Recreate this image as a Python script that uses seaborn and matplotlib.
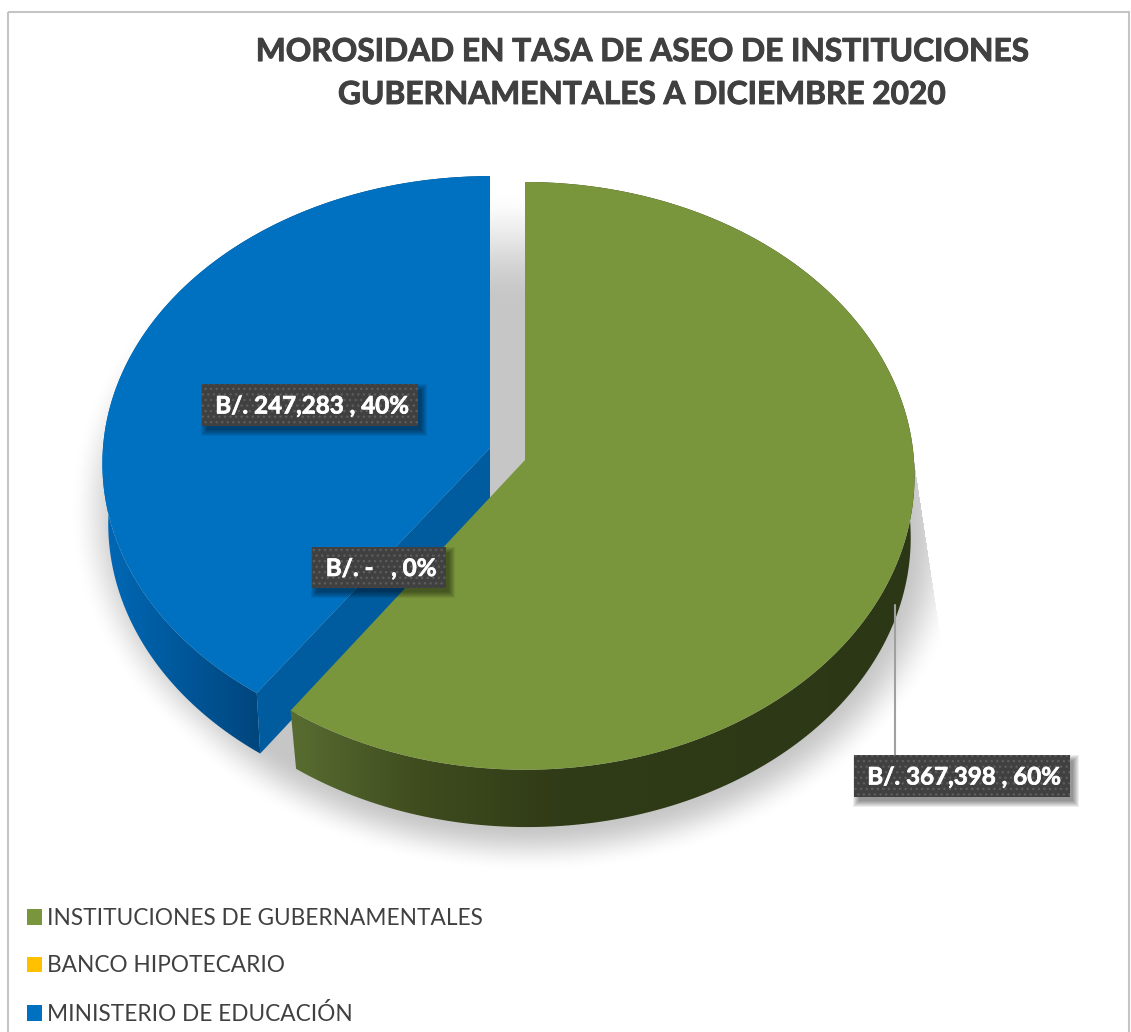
import numpy as np
import matplotlib
matplotlib.use("Agg")
import matplotlib.pyplot as plt
import matplotlib.patheffects as pe
import seaborn as sns
from matplotlib.colors import to_rgb
from matplotlib.patches import Polygon, Rectangle
from matplotlib.transforms import Transform

categories = ["INSTITUCIONES DE GUBERNAMENTALES", "BANCO HIPOTECARIO", "MINISTERIO DE EDUCACIÓN"]
values = [367398, 0, 247283]
value_labels = ["B/. 367,398 , 60%", "B/. -   , 0%", "B/. 247,283 , 40%"]
colors = ["#7A963C", "#FFC000", "#0070C0"]
title_text = "MOROSIDAD EN TASA DE ASEO DE INSTITUCIONES\nGUBERNAMENTALES A DICIEMBRE 2020"

W, H = 1131, 1032
sns.set_theme(style="white")
plt.rcParams["font.family"] = ["Lato", "DejaVu Sans"]


class Tilt(Transform):
    """Projects the unit pie onto a tilted disc, in pixel coordinates."""
    input_dims = output_dims = 2
    is_affine = False
    has_inverse = False

    def __init__(self, cx, cy, scale=1.0, rx=389.0, ry=293.0, k=0.054):
        super().__init__()
        self.cx, self.cy, self.rx, self.ry, self.k = cx, cy, rx * scale, ry * scale, k

    def transform_non_affine(self, values):
        v = np.asarray(values, float)
        w = 1 + self.k * v[:, 1]
        return np.column_stack((self.cx + self.rx * v[:, 0] / w, self.cy - self.ry * v[:, 1] / w))


fig = plt.figure(figsize=(W / 100, H / 100), dpi=100, facecolor="white")
ax = fig.add_axes([0, 0, 1, 1])
wedges, _ = ax.pie(values, colors=sns.color_palette(colors), startangle=90, counterclock=False,
                   wedgeprops=dict(linewidth=0))
ax.set_aspect("auto")
ax.set_xlim(0, W)
ax.set_ylim(H, 0)
ax.axis("off")


def smooth(t):
    t = np.clip(t, 0, 1)
    return t * t * (3 - 2 * t)


# soft floor shadow
yy, xx = np.mgrid[0:H, 0:W] + 0.5


def blob(cx, cy, rx, ry):
    d = np.hypot((xx - cx) / rx, (yy - cy) / ry)
    return smooth((1.0 - d) / 0.14)


alpha = np.maximum(blob(530, 530, 438, 342), blob(490, 510, 420, 335))
alpha *= smooth((yy - 185) / 120)
alpha = np.where(xx > 914 + (yy - 460) * 0.15, 0, alpha)
alpha = np.where((xx > 700) & (yy < 455), 0, alpha)
shadow = np.zeros((H, W, 4))
shadow[..., :3] = to_rgb("#C6C6C6")
shadow[..., 3] = alpha
ax.imshow(shadow, extent=(0, W, H, 0), aspect="auto", zorder=1, interpolation="bilinear")


def arc(tr, t1, t2, n=200):
    t = np.radians(np.linspace(t1, t2, n))
    return tr.transform_non_affine(np.column_stack((np.cos(t), np.sin(t))))


def side(wedge, top, bottom, stops, z):
    pts = np.vstack((arc(top, wedge.theta1, wedge.theta2), arc(bottom, wedge.theta1, wedge.theta2)[::-1]))
    poly = Polygon(pts, closed=True, fc="none", ec="none", zorder=z)
    ax.add_patch(poly)
    x = np.arange(W) + 0.5
    xs = [s[0] for s in stops]
    rgb = np.array([to_rgb(s[1]) for s in stops])
    row = np.column_stack([np.interp(x, xs, rgb[:, i]) for i in range(3)])
    im = ax.imshow(row[None, :, :], extent=(0, W, H, 0), aspect="auto", zorder=z)
    im.set_clip_path(poly)


green, yellow, blue = wedges
g_top, g_bot = Tilt(525, 460), Tilt(527, 522, 0.985)
b_top, b_bot = Tilt(490, 448, 0.995, ry=288), Tilt(490, 508, 0.98)

# blue slice
side(blue, b_top, b_bot, [(105, "#0068B6"), (170, "#005A9E"), (258, "#00467E")], 2)
corner = np.radians(blue.theta2)
c = np.array([[np.cos(corner), np.sin(corner)]])
face = np.vstack((b_top.transform_non_affine(np.zeros((1, 2))), b_bot.transform_non_affine(np.zeros((1, 2))),
                  b_bot.transform_non_affine(c), b_top.transform_non_affine(c)))
ax.add_patch(Polygon(face, closed=True, fc="#005C9F", ec="none", zorder=2.5))
blue.set_transform(b_top + ax.transData)
blue.set_zorder(3)

# green slice
side(green, g_top, g_bot, [(295, "#586C31"), (420, "#3F4C1E"), (560, "#303B17"), (914, "#2C3716")], 4)
green.set_transform(g_top + ax.transData)
green.set_zorder(5)

# leader line
ax.plot([895, 895], [605, 755], color="#A0A0A0", lw=1.5, zorder=6)

# data labels
boxes = [(854, 755, 216, 42), (312, 547, 134, 41), (202, 384, 216, 42)]
bold = [pe.withStroke(linewidth=0.5, foreground="white")]
for (x, y, w, h), lab in zip(boxes, value_labels):
    for grow in (5, 4, 3, 2, 1, 0, -1):
        ax.add_patch(Rectangle((x + 4 - grow, y + 5 - grow), w + 2 * grow, h + 2 * grow, fc="black", ec="none",
                               alpha=0.07, zorder=7))
    ax.add_patch(Rectangle((x, y), w, h, fc="#404040", ec="#5C5C5C", hatch="...", lw=0, zorder=8))
    ax.text(x + w / 2 + 2, y + h / 2 + 1, lab, color="white", fontsize=17.4, fontweight="bold",
            ha="center", va="center", zorder=9, path_effects=bold)

# title
ax.text(641, 73, title_text, color="#404040", fontsize=22.8, fontweight="bold",
        ha="center", va="center", linespacing=1.58, zorder=9,
        path_effects=[pe.withStroke(linewidth=0.7, foreground="#404040")])

# frame
ax.add_patch(Rectangle((8, 12), 1121, H + 20, fc="none", ec="#C4C4C4", lw=1.5, zorder=0.5))

# legend
leg = ax.legend(wedges, categories, loc="lower left", bbox_to_anchor=(9 / W, -11 / H), frameon=False,
                fontsize=16.3, labelcolor="#404040", handlelength=0.66, handleheight=0.66,
                handletextpad=0.22, labelspacing=1.17, borderpad=0.3)
leg.set_zorder(10)

ax.set_xlim(0, W)
ax.set_ylim(H, 0)
fig.savefig("out.png", dpi=100)
